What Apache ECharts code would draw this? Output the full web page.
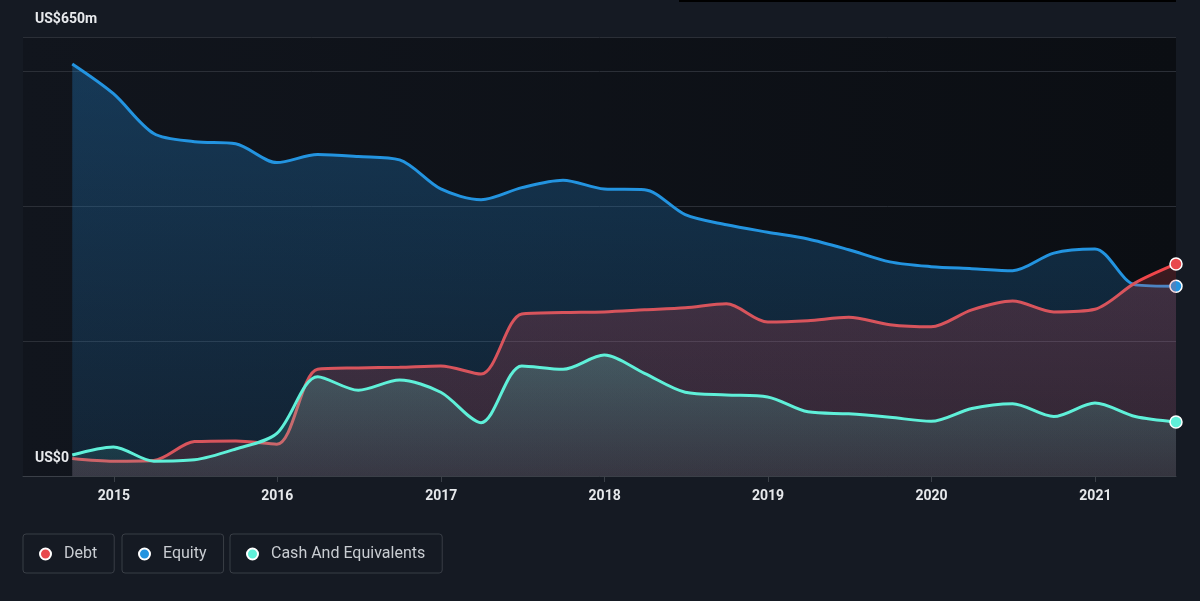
<!DOCTYPE html>
<html>
<head>
<meta charset="utf-8">
<script src="https://cdn.jsdelivr.net/npm/echarts@6/dist/echarts.min.js"></script>
<style>
  html, body { margin: 0; padding: 0; background: #151a23; }
  #chart { width: 1200px; height: 601px; }
</style>
</head>
<body>
<div id="chart"></div>
<script>
// quarter-end dates (2014 Q3 .. 2021 Q2)
const dates = [
  '2014-09-30', '2014-12-31',
  '2015-03-31', '2015-06-30', '2015-09-30', '2015-12-31',
  '2016-03-31', '2016-06-30', '2016-09-30', '2016-12-31',
  '2017-03-31', '2017-06-30', '2017-09-30', '2017-12-31',
  '2018-03-31', '2018-06-30', '2018-09-30', '2018-12-31',
  '2019-03-31', '2019-06-30', '2019-09-30', '2019-12-31',
  '2020-03-31', '2020-06-30', '2020-09-30', '2020-12-31',
  '2021-03-31', '2021-06-30'
];

// values in US$m
const debt = [26, 22, 23, 51, 52, 47, 158, 160, 161, 163, 151, 240, 242, 243,
  246, 249, 255, 228, 230, 235, 224, 221, 246, 259, 243, 247, 286, 314];
const equity = [610, 566, 507, 495, 492, 464, 476, 473, 468, 425, 409, 427, 438, 425,
  424, 387, 372, 361, 351, 335, 317, 310, 307, 304, 330, 336, 283, 281];
const cash = [31, 43, 22, 24, 40, 63, 147, 127, 142, 124, 79, 163, 158, 179,
  152, 124, 120, 117, 95, 92, 87, 81, 100, 107, 88, 108, 88, 80];

const yTop = 650;

const colors = { debt: '#e8484c', equity: '#2394e0', cash: '#5ff0d9' };
const debtLine = '#d8545c';

const chart = echarts.init(document.getElementById('chart'));

function pairs(values) {
  return values.map((v, i) => [dates[i], v]);
}

function endDot(value, params) {
  return params.dataIndex === dates.length - 1 ? 12 : 0;
}

function areaGrad(top, bottom) {
  return new echarts.graphic.LinearGradient(0, 0, 0, 1, [
    { offset: 0, color: top },
    { offset: 1, color: bottom }
  ]);
}

function legendBox(name, left) {
  return {
    data: [name],
    left: left,
    top: 534,
    orient: 'horizontal',
    icon: 'circle',
    itemWidth: 11,
    itemHeight: 11,
    padding: [12, 17, 11, 16],
    borderColor: '#393e46',
    borderWidth: 1,
    borderRadius: 3,
    selectedMode: false,
    textStyle: {
      color: '#c9cdd2',
      fontSize: 16,
      fontFamily: 'Roboto',
      padding: [0, 0, 0, 8]
    }
  };
}

const option = {
  backgroundColor: '#151a23',
  animation: false,
  grid: {
    left: 23,
    right: 24,
    top: 37,
    bottom: 125,
    show: true,
    borderWidth: 0,
    backgroundColor: new echarts.graphic.LinearGradient(0, 0, 1, 0, [
      { offset: 0, color: '#11151d' },
      { offset: 1, color: '#0b0e13' }
    ])
  },
  legend: [
    legendBox('Debt', 23),
    legendBox('Equity', 122),
    legendBox('Cash And Equivalents', 230)
  ],
  graphic: [{
    type: 'rect',
    shape: { x: 679, y: 0, width: 497, height: 2 },
    style: { fill: '#000000' }
  }],
  xAxis: {
    type: 'time',
    min: '2014-06-12',
    max: '2021-06-30',
    minInterval: 365 * 24 * 3600 * 1000,
    maxInterval: 366 * 24 * 3600 * 1000,
    axisLine: { show: true, lineStyle: { color: '#3b4048', width: 1 } },
    axisTick: { show: true, length: 6, lineStyle: { color: '#3b4048' } },
    splitLine: { show: false },
    axisLabel: {
      color: '#e6e8eb',
      fontSize: 14,
      fontWeight: 'bold',
      fontFamily: 'Roboto',
      margin: 13,
      formatter: '{yyyy}'
    }
  },
  yAxis: {
    type: 'value',
    min: 0,
    max: yTop,
    interval: 200,
    axisLine: { show: false },
    axisTick: { show: false },
    splitLine: { show: true, lineStyle: { color: '#2b2f37', width: 1 } },
    axisLabel: {
      inside: true,
      margin: 12,
      verticalAlign: 'bottom',
      padding: [0, 0, 11, 0],
      color: '#e8eaed',
      fontSize: 14,
      fontWeight: 'bold',
      fontFamily: 'Roboto',
      formatter: function (v) {
        if (v === 0) return 'US$0';
        if (v === yTop) return 'US$650m';
        return '';
      }
    }
  },
  series: [
    {
      name: 'Equity',
      type: 'line',
      data: pairs(equity),
      smooth: 0.3,
      symbol: 'circle',
      symbolSize: endDot,
      showSymbol: true,
      itemStyle: { color: colors.equity, borderColor: '#ffffff', borderWidth: 1.5 },
      lineStyle: { color: colors.equity, width: 3 },
      areaStyle: { color: areaGrad('rgba(35,140,220,0.30)', 'rgba(35,140,220,0.12)'), opacity: 1 },
      z: 2
    },
    {
      name: 'Debt',
      type: 'line',
      data: pairs(debt),
      smooth: 0.3,
      symbol: 'circle',
      symbolSize: endDot,
      showSymbol: true,
      itemStyle: { color: colors.debt, borderColor: '#ffffff', borderWidth: 1.5 },
      lineStyle: { color: debtLine, width: 3 },
      areaStyle: { color: areaGrad('rgba(232,72,80,0.22)', 'rgba(232,72,80,0.16)'), opacity: 1 },
      z: 3
    },
    {
      name: 'Cash And Equivalents',
      type: 'line',
      data: pairs(cash),
      smooth: 0.3,
      symbol: 'circle',
      symbolSize: endDot,
      showSymbol: true,
      itemStyle: { color: colors.cash, borderColor: '#ffffff', borderWidth: 1.5 },
      lineStyle: { color: colors.cash, width: 3 },
      areaStyle: { color: areaGrad('rgba(95,240,217,0.22)', 'rgba(95,240,217,0.08)'), opacity: 1 },
      z: 4
    }
  ]
};

chart.setOption(option);

// brighter red for the latest debt segment (from the last-but-one quarter)
const n = dates.length;
const xFirst = chart.convertToPixel({ gridIndex: 0 }, [dates[0], 0])[0];
const xLast = chart.convertToPixel({ gridIndex: 0 }, [dates[n - 1], 0])[0];
const xCut = chart.convertToPixel({ gridIndex: 0 }, [dates[n - 2], 0])[0];
const cut = (xCut - xFirst) / (xLast - xFirst);
chart.setOption({
  series: [{}, {
    lineStyle: {
      color: new echarts.graphic.LinearGradient(0, 0, 1, 0, [
        { offset: 0, color: debtLine },
        { offset: cut, color: debtLine },
        { offset: cut, color: '#f0464a' },
        { offset: 1, color: '#f0464a' }
      ])
    }
  }, {}]
});
</script>
</body>
</html>
